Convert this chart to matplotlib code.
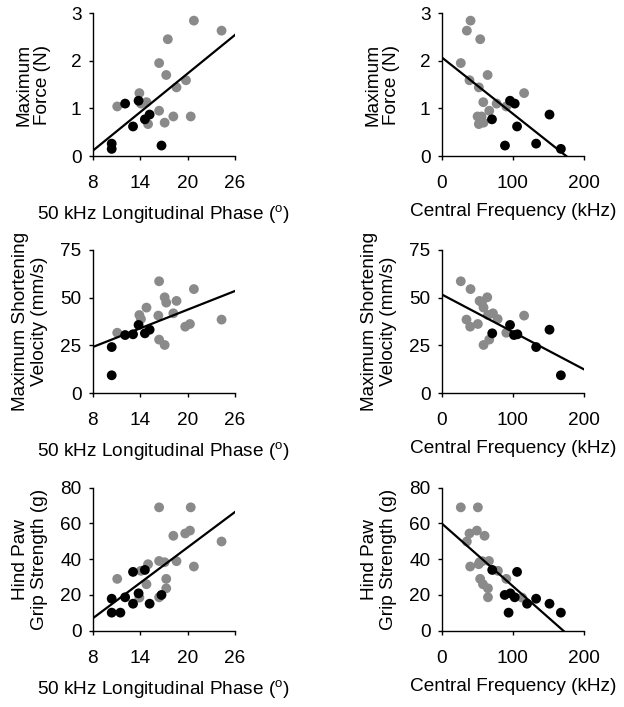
import numpy as np
import matplotlib
matplotlib.use("Agg")
import matplotlib.pyplot as plt

plt.rcParams["font.family"] = ["Liberation Sans", "DejaVu Sans"]
plt.rcParams["mathtext.fontset"] = "custom"
plt.rcParams["mathtext.rm"] = "Liberation Sans"
plt.rcParams["font.size"] = 13.7

# ============================================
# Data
# ============================================
# Row 1 : maximum force (N)
force_gray = [2.84, 2.63, 2.45, 1.95, 1.70, 1.59, 1.44, 1.32, 1.13, 1.10, 1.04, 0.95, 0.83, 0.83, 0.70, 0.67]
force_gray_phase = [20.8, 24.3, 17.5, 16.4, 17.3, 19.8, 18.6, 13.9, 14.8, 14.1, 11.1, 16.4, 18.2, 20.4, 17.1, 15.0]
force_gray_freq = [40.5, 35.3, 54.1, 26.8, 64.5, 39.0, 52.2, 115.8, 58.4, 77.2, 90.8, 66.8, 50.4, 56.0, 58.8, 52.2]

force_black = [1.16, 1.10, 0.87, 0.77, 0.62, 0.26, 0.22, 0.15]
force_black_phase = [13.8, 12.1, 15.2, 14.6, 13.1, 10.4, 16.7, 10.4]
force_black_freq = [96.0, 102.6, 151.5, 70.6, 105.9, 132.7, 88.9, 167.5]

# Row 2 : maximum shortening velocity (mm/s)
vel_gray = [58.6, 54.5, 50.2, 48.3, 47.4, 44.8, 41.8, 40.9, 40.6, 38.8, 38.5, 36.2, 34.8, 31.6, 28.0, 25.2]
vel_gray_phase = [16.4, 20.8, 17.1, 18.6, 17.3, 14.8, 18.2, 13.9, 16.3, 14.1, 24.3, 20.3, 19.7, 11.1, 16.4, 17.1]
vel_gray_freq = [26.8, 40.5, 64.0, 53.2, 56.5, 58.8, 72.0, 65.0, 115.8, 78.6, 34.8, 50.8, 40.0, 90.8, 66.8, 58.8]

vel_black = [35.7, 33.2, 31.3, 30.8, 30.4, 24.1, 9.3]
vel_black_phase = [13.8, 15.2, 14.6, 13.1, 12.1, 10.4, 10.4]
vel_black_freq = [96.0, 151.5, 71.0, 106.4, 101.6, 132.7, 167.5]

# Row 3 : hind paw grip strength (g)
grip_gray = [69, 69, 56, 54.4, 53.1, 49.9, 39, 38.3, 38.9, 35.9, 37.2, 33.5, 29, 29, 26, 23.7, 18.5, 18.7]
grip_gray_phase = [16.4, 20.4, 20.3, 19.7, 18.2, 24.3, 16.4, 17.1, 18.6, 20.8, 15.0, 14.1, 11.1, 17.3, 14.8, 17.3, 13.9, 16.4]
grip_gray_freq = [26.8, 50.8, 49.4, 39.0, 60.2, 35.3, 66.4, 53.2, 57.0, 40.0, 52.0, 79.0, 90.8, 54.0, 58.0, 65.0, 113.0, 65.0]

grip_black = [32.9, 34.0, 18.7, 20.9, 20.0, 17.9, 15.1, 15.1, 10.1, 10.1]
grip_black_phase = [13.1, 14.6, 12.1, 13.8, 16.7, 10.4, 13.1, 15.2, 10.4, 11.5]
grip_black_freq = [105.9, 71.0, 102.6, 96.5, 88.5, 132.7, 120.0, 151.5, 167.5, 94.0]

# Regression lines (intercept, slope)
fit_phase = [(-0.97, 0.135), (11.04, 1.633), (-19.54, 3.306)]
fit_freq = [(2.07, -0.01183), (51.7, -0.1965), (60.0, -0.351)]

ylabels = ["Maximum\nForce (N)",
           "Maximum Shortening\nVelocity (mm/s)",
           "Hind Paw\nGrip Strength (g)"]
ylims = [(0, 3), (0, 75), (0, 80)]
yticks = [[0, 1, 2, 3], [0, 25, 50, 75], [0, 20, 40, 60, 80]]
ylabel_x = [-0.29, -0.315, -0.315]

phase_label = r"50 kHz Longitudinal Phase ($\mathregular{^o}$)"
freq_label = "Central Frequency (kHz)"

rows = [
    (force_gray, force_gray_phase, force_gray_freq, force_black, force_black_phase, force_black_freq),
    (vel_gray, vel_gray_phase, vel_gray_freq, vel_black, vel_black_phase, vel_black_freq),
    (grip_gray, grip_gray_phase, grip_gray_freq, grip_black, grip_black_phase, grip_black_freq),
]

# ============================================
# Plot
# ============================================
fig = plt.figure(figsize=(6.24, 7.07), dpi=100)

bottoms = [0.7793, 0.4441, 0.1079]
lefts = [0.1486, 0.7079]
gray = "#8a8a8a"

for r, (gy, gp, gf, by, bp, bf) in enumerate(rows):
    for c in range(2):
        ax = fig.add_axes([lefts[c], bottoms[r], 0.228, 0.2023])

        if c == 0:
            gx, bx = gp, bp
            xlim = (8, 26)
            xticks = [8, 14, 20, 26]
            xlabel = phase_label
            b0, b1 = fit_phase[r]
        else:
            gx, bx = gf, bf
            xlim = (0, 200)
            xticks = [0, 100, 200]
            xlabel = freq_label
            b0, b1 = fit_freq[r]

        ax.scatter(gx, gy, s=50, color=gray, edgecolors="none", zorder=2)
        ax.scatter(bx, by, s=50, color="black", edgecolors="none", zorder=3)

        xs = np.array(xlim, dtype=float)
        ax.plot(xs, b0 + b1 * xs, color="black", lw=1.6, zorder=4)

        ax.set_xlim(xlim)
        ax.set_ylim(ylims[r])
        ax.set_xticks(xticks)
        ax.set_yticks(yticks[r])

        for s in ["top", "right"]:
            ax.spines[s].set_visible(False)
        for s in ["left", "bottom"]:
            ax.spines[s].set_linewidth(1.0)

        ax.tick_params(axis="both", direction="out", length=3, width=1.0)
        ax.tick_params(axis="x", pad=11)
        ax.tick_params(axis="y", pad=5)

        ax.set_ylabel(ylabels[r], linespacing=1.15)
        ax.yaxis.set_label_coords(ylabel_x[r], 0.5)
        ax.set_xlabel(xlabel)
        ax.xaxis.set_label_coords(0.5, -0.33)

fig.savefig("out.png", dpi=100)
